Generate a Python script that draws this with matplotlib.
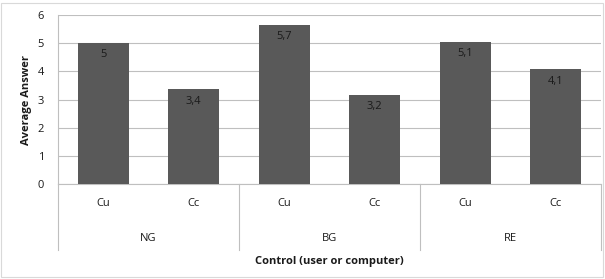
import matplotlib.pyplot as plt
from matplotlib.patches import Rectangle

plt.rcParams['font.family'] = ['Open Sans', 'DejaVu Sans']

groups = ['NG', 'BG', 'RE']
controls = ['Cu', 'Cc', 'Cu', 'Cc', 'Cu', 'Cc']
values = [5.0, 3.36, 5.66, 3.16, 5.05, 4.07]
labels = ['5', '3,4', '5,7', '3,2', '5,1', '4,1']

fig = plt.figure(figsize=(6.05, 2.79), dpi=100)
ax = fig.add_axes([0.0959, 0.3405, 0.8975, 0.6057])

grid_c = '#bfbfbf'
bar_c = '#595959'
txt_c = '#1a1a1a'
fs = 8

x = list(range(len(values)))
bars = ax.bar(x, values, width=0.56, color=bar_c, zorder=3)
for b, lab in zip(bars, labels):
    ax.text(b.get_x() + b.get_width() / 2, b.get_height() - 0.22, lab,
            ha='center', va='top', fontsize=fs, color=txt_c, zorder=4)

ax.set_xlim(-0.5, len(values) - 0.5)
ax.set_ylim(0, 6)
ax.set_yticks(range(7))
ax.yaxis.grid(True, color=grid_c, linewidth=0.8, zorder=0)
ax.tick_params(axis='y', length=0, labelsize=fs, labelcolor=txt_c, pad=10)
ax.set_xticks([])
for s in ['top', 'right']:
    ax.spines[s].set_visible(False)
ax.spines['left'].set_color(grid_c)
ax.spines['bottom'].set_color(grid_c)
ax.spines['left'].set_linewidth(0.8)
ax.spines['bottom'].set_linewidth(0.8)

ax.set_ylabel('Average Answer', fontsize=fs, fontweight='bold', color=txt_c, labelpad=4)

# two-level category axis below the plot
trans = ax.get_xaxis_transform()
depth = -66 / 169.0
for xb in [-0.5, 1.5, 3.5, 5.5]:
    ax.plot([xb, xb], [0, depth], transform=trans, color=grid_c,
            linewidth=0.8, clip_on=False)
for xi, c in zip(x, controls):
    ax.text(xi, -20 / 169.0, c, transform=trans, ha='center', va='center',
            fontsize=fs, color=txt_c)
for gi, g in enumerate(groups):
    ax.text(gi * 2 + 0.5, -55 / 169.0, g, transform=trans, ha='center',
            va='center', fontsize=fs, color=txt_c)
ax.text(2.5, -78 / 169.0, 'Control (user or computer)', transform=trans,
        ha='center', va='center', fontsize=fs, fontweight='bold', color=txt_c)

fig.patches.append(Rectangle((1 / 605, 2 / 279), 602 / 605, 274 / 279,
                             transform=fig.transFigure, fill=False,
                             edgecolor='#d9d9d9', linewidth=0.8))

fig.savefig('out.png', dpi=100)
